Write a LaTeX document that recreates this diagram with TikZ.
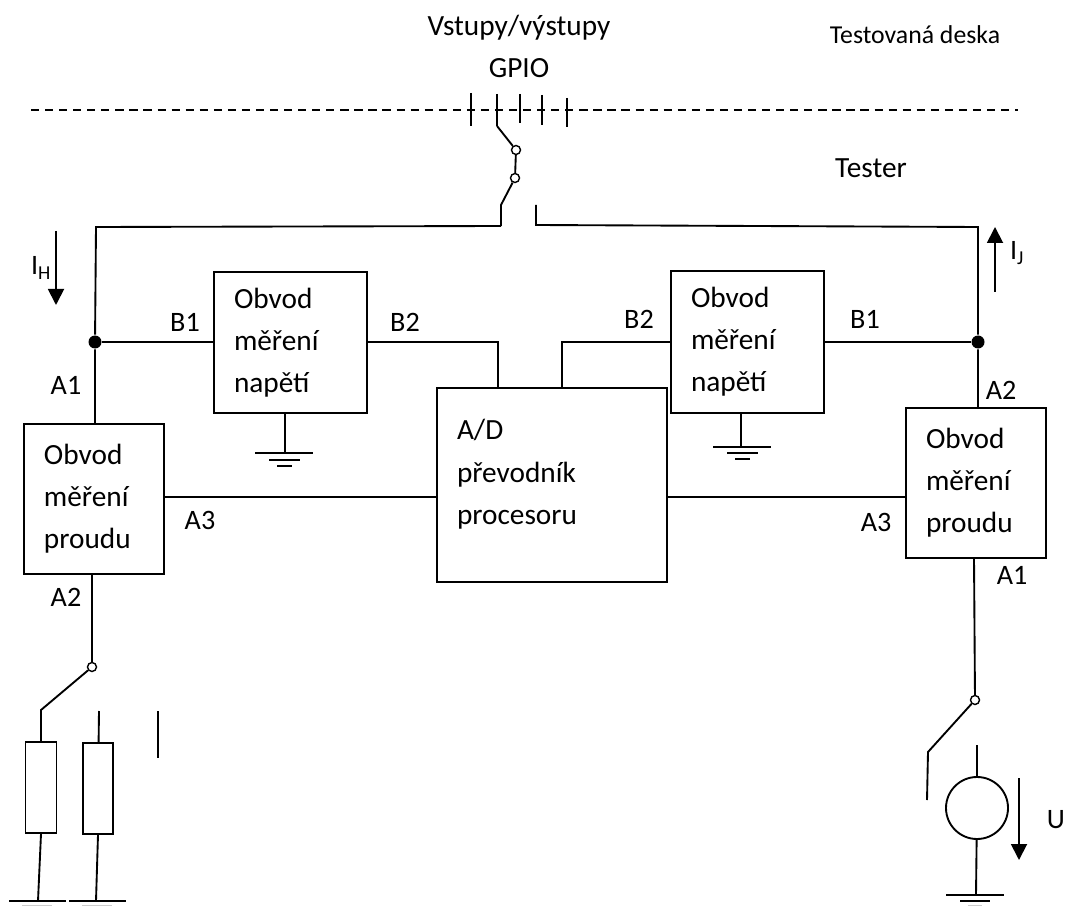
\documentclass[tikz,border=0pt]{standalone}
\usepackage{fontspec}
\setmainfont{Carlito}
\usetikzlibrary{positioning,shapes,arrows.meta}

\begin{document}
\begin{tikzpicture}[x=0.03cm,y=-0.03cm,line width=1.6pt,
  lbl/.style={inner sep=0pt,font=\fontsize{24}{36}\selectfont},
  blockbox/.style={draw,inner sep=0pt,font=\fontsize{25}{36}\selectfont,align=left,inner xsep=0.6cm,text width=#1},
  junction/.style={circle,fill=black,inner sep=0pt,minimum size=0.39cm},
  contact/.style={circle,draw,fill=white,line width=1.2pt,inner sep=0pt,minimum size=0.27cm},
  tip/.style={-{Triangle[width=0.48cm,length=0.48cm]}}]
\useasboundingbox (0,0) rectangle (1065,906);

% Board boundary and GPIO pins
\draw[dash pattern=on 7pt off 5pt,line width=1.2pt] (31,110) -- (1018,110);
\node[lbl,font=\fontsize{25}{36}\selectfont] (gpiotop) at (519,28) {Vstupy/výstupy};
\node[lbl,font=\fontsize{25}{36}\selectfont] (gpio) at (519,68) {GPIO};
\node[lbl,font=\fontsize{22}{36}\selectfont] (board) at (915,35) {Testovaná deska};
\node[lbl,font=\fontsize{25}{36}\selectfont] (tester) at (871,168) {Tester};
\foreach \x/\a/\b in {471/93/126,497/94/126,520/94/123,542/95/125,567/98/127}
  \draw (\x,\a) -- (\x,\b);

% Measuring blocks
\node[blockbox=3.39cm,minimum height=4.23cm] (voltL) at (290.5,342.5) {Obvod\\měření\\napětí};
\node[blockbox=3.39cm,minimum height=4.26cm] (voltR) at (747.5,342) {Obvod\\měření\\napětí};
\node[blockbox=5.7cm,minimum height=5.82cm] (adc) at (552,485) {A/D\\převodník\\procesoru\\[-13.6pt]\mbox{}};
\node[blockbox=3cm,minimum height=4.5cm] (currL) at (94,499) {Obvod\\měření\\proudu};
\node[blockbox=3cm,minimum height=4.5cm] (currR) at (976,483) {Obvod\\měření\\proudu};

% Top switch
\node[contact] (swa) at (516,150) {};
\node[contact] (swb) at (515,178) {};
\coordinate (pin) at (497,126);
\coordinate (swfree) at (501,205);
\coordinate (cornerL) at (501,226);
\coordinate (openR) at (536,205);
\coordinate (cornerR) at (536,225);
\draw (pin) -- (swa) -- (swb) -- (swfree) -- (cornerL);

% Left and right supply wires
\node[junction] (jL) at (95,342) {};
\node[junction] (jR) at (978,342) {};
\coordinate (topL) at (96,227);
\coordinate (topR) at (978,227);
\draw (cornerL) -- (topL) -- (jL) -- (jL |- currL.north);
\draw (openR) -- (cornerR) -- (topR) -- (jR) -- (jR |- currR.north);

% Block connections
\draw (jL) -- (jL -| voltL.west);
\draw (voltL.east |- jL) -- (498,342) -- (498,388);
\draw (562,388) -- (562,342) -- (voltR.west |- jR);
\draw (voltR.east |- jR) -- (jR);
\draw (currL.east |- 0,497) -- (adc.west |- 0,497);
\draw (adc.east |- 0,497) -- (currR.west |- 0,497);

% Grounds of the voltage blocks
\coordinate (gndL) at (285,453);
\coordinate (gndR) at (741,447);
\draw (voltL.south -| gndL) -- (gndL);
\draw (voltR.south -| gndR) -- (gndR);
\draw (255,453) -- (313,453) (269,460) -- (300,460) (277,466) -- (292,466);
\draw (713,447) -- (771,447) (727,453) -- (758,453) (735,459) -- (750,459);

% Load resistors
\node[contact] (swL) at (92,667) {};
\coordinate (swLfree) at (41,710);
\node[draw,minimum width=0.93cm,minimum height=2.73cm,inner sep=0pt] (resA) at (41,787.5) {};
\node[draw,minimum width=0.9cm,minimum height=2.73cm,inner sep=0pt] (resB) at (98,788.5) {};
\coordinate (resBtop) at (99,711);
\coordinate (gndA) at (38,901);
\coordinate (gndB) at (96,901);
\draw (92,574) -- (swL) -- (swLfree) -- (resA);
\draw (resBtop) -- (resB);
\draw (resA.south) -- (gndA);
\draw (resB.south) -- (gndB);
\draw (9,901) -- (66,901) (69,901) -- (126,901);
\draw[gray!40,line width=0.8pt] (22,905) -- (52,905) (82,905) -- (112,905);
\draw (158,711) -- (158,758);

% Voltage source
\node[contact] (swR) at (975,700) {};
\coordinate (swRbend) at (928,752);
\coordinate (swRfree) at (927,800);
\node[circle,draw,minimum size=1.86cm,inner sep=0pt] (src) at (977,808) {};
\coordinate (srctop) at (977,745);
\coordinate (gndS) at (976,895);
\draw (974,558) -- (swR) -- (swRbend) -- (swRfree);
\draw (srctop) -- (src);
\draw (src) -- (gndS);
\draw (946,895) -- (1004,895) (960,901) -- (990,901);
\draw[gray!40,line width=0.8pt] (968,905) -- (982,905);

% Arrows
\coordinate (iha) at (56,231);
\coordinate (ihb) at (56,305);
\coordinate (ija) at (995,292);
\coordinate (ijb) at (995,227);
\coordinate (ua) at (1019,778);
\coordinate (ub) at (1019,860);
\draw[tip] (iha) -- (ihb);
\draw[tip] (ija) -- (ijb);
\draw[tip] (ua) -- (ub);
\node[lbl] (ih) at (41,268) {I\textsubscript{H}};
\node[lbl] (ij) at (1017,253) {I\textsubscript{J}};
\node[lbl] (u) at (1056,820) {U};

% Port labels
\foreach \n/\x/\y/\t in {a/66/385/A1,b/185/322/B1,c/405/322/B2,d/639/319/B2,e/865/319/B1,f/1001/390/A2,g/1012/575/A1,h/200/520/A3,i/876/522/A3,j/66/597/A2}
  \node[lbl] (port\n) at (\x,\y) {\t};
\end{tikzpicture}
\end{document}
